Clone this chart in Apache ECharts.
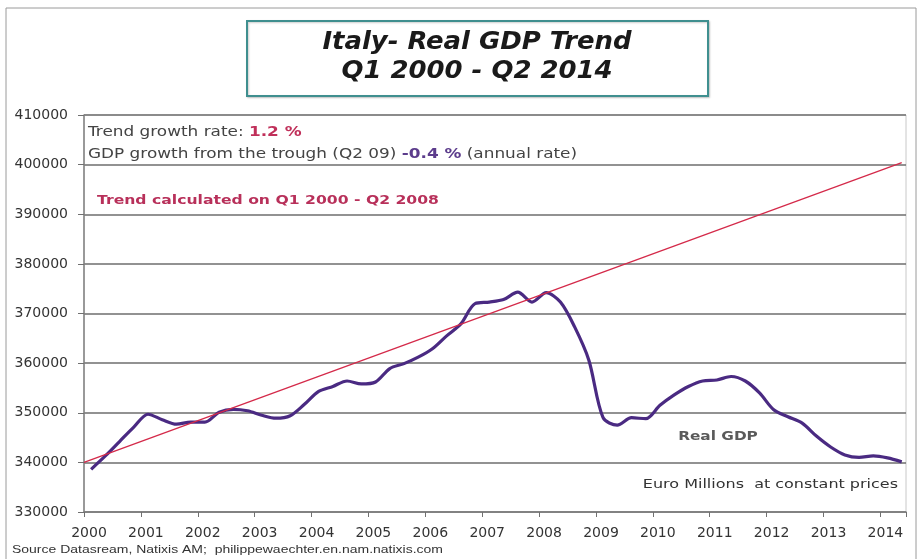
<!DOCTYPE html>
<html>
<head>
<meta charset="utf-8">
<script src="https://cdn.jsdelivr.net/npm/echarts@6/dist/echarts.min.js"></script>
<style>
html,body{margin:0;padding:0;background:#fff;}
#chart{width:918px;height:559px;}
</style>
</head>
<body>
<div id="chart"></div>
<script>
// ---- Data ----
const years = [2000,2001,2002,2003,2004,2005,2006,2007,2008,2009,2010,2011,2012,2013,2014];
const quarters = (function(){const q=[];for(let y=2000;y<=2014;y++){for(let k=1;k<=4;k++){q.push(y+'Q'+k);if(y===2014&&k===2)return q;}}return q;})();
// Real GDP, euro millions at constant prices, Q1 2000 - Q2 2014
const realGDP = [
  338600, 341300, 344200, 347100,
  349700, 348600, 347700, 348100,
  348100, 350100, 350700, 350400,
  349500, 348900, 349400, 351700,
  354300, 355300, 356400, 355800,
  356200, 358900, 359900, 361200,
  362900, 365500, 367900, 372000,
  372300, 372800, 374300, 372300,
  374200, 372300, 367300, 360600,
  349000, 347500, 349000, 348800,
  351500, 353600, 355300, 356400,
  356600, 357300, 356400, 354000,
  350600, 349200, 347900, 345300,
  343100, 341500, 341000, 341300,
  340900, 340100
];
// Trend line (calculated on Q1 2000 - Q2 2008), end points
const trendX = [2000.0, 2014.375];
const trendY = [340000, 400400];
const yTicks = [330000, 340000, 350000, 360000, 370000, 380000, 390000, 400000, 410000];

function quarterPos(label){
  const y = parseInt(label.slice(0,4),10);
  const q = parseInt(label.slice(5),10);
  return y + (q-1)/4 + 0.125;
}
const gdpData = quarters.map((q,i)=>[quarterPos(q), realGDP[i]]);
const trendData = trendX.map((x,i)=>[x, trendY[i]]);

const chart = echarts.init(document.getElementById('chart'), null, {renderer:'canvas'});
const F = 'DejaVu Sans, Verdana, sans-serif';
const SX = 1.25;
chart.setOption({
  animation:false,
  backgroundColor:'#ffffff',
  grid:{left:84, right:12, top:115, bottom:47, show:true, borderColor:'#c8c8c8', borderWidth:1, backgroundColor:'transparent'},
  xAxis:{
    type:'value', min:years[0], max:2014.45, interval:1,
    axisLine:{show:true, onZero:false, lineStyle:{color:'#808080', width:1.5}},
    axisTick:{show:true, length:5, lineStyle:{color:'#707070'}},
    axisLabel:{color:'#333', fontFamily:F, fontSize:14, margin:14, padding:[0,0,0,10],
      formatter:v=>years.indexOf(Math.round(v))>=0 && Math.abs(v-Math.round(v))<1e-6 ? String(Math.round(v)) : ''},
    splitLine:{show:false}
  },
  yAxis:{
    type:'value', min:yTicks[0], max:yTicks[yTicks.length-1], interval:10000,
    axisLine:{show:true, lineStyle:{color:'#808080', width:1.5}},
    axisTick:{show:true, length:6, lineStyle:{color:'#707070'}},
    axisLabel:{color:'#333', fontFamily:F, fontSize:14, margin:16, padding:[3,0,0,0], formatter:v=>String(v)},
    splitLine:{show:true, lineStyle:{color:'#6e6e6e', width:1.5}}
  },
  series:[
    {
      name:'Trend', type:'line', data:trendData, showSymbol:false, z:3,
      lineStyle:{color:'#d42a4a', width:1.3}
    },
    {
      name:'Real GDP', type:'line', data:gdpData, showSymbol:false, smooth:0.3, z:2,
      lineStyle:{color:'#4a2a82', width:3.2}
    }
  ],
  graphic:[
    {type:'rect', shape:{x:6, y:8, width:910, height:560}, style:{fill:'none', stroke:'#9a9a9a', lineWidth:1}, silent:true, z:-1},
    {type:'rect', shape:{x:247, y:21, width:461, height:75}, style:{fill:'#fff', stroke:'#3f8f8f', lineWidth:2, shadowBlur:2, shadowColor:'rgba(0,0,0,0.2)', shadowOffsetX:1, shadowOffsetY:1}, z:10},
    {type:'text', x:477, y:43, scaleX:1.2, style:{text:'Italy- Real GDP Trend', font:'italic bold 24px "DejaVu Sans Condensed", "DejaVu Sans", sans-serif', fill:'#1a1a1a', textAlign:'center', textVerticalAlign:'middle'}, z:11},
    {type:'text', x:477, y:72, scaleX:1.2, style:{text:'Q1 2000 - Q2 2014', font:'italic bold 24px "DejaVu Sans Condensed", "DejaVu Sans", sans-serif', fill:'#1a1a1a', textAlign:'center', textVerticalAlign:'middle'}, z:11},
    {type:'text', x:88, y:132, scaleX:SX, style:{
      text:'{a|Trend growth rate: }{r|1.2 %}',
      rich:{a:{fontFamily:F, fontSize:13.5, fill:'#444'}, r:{fontFamily:F, fontSize:13.5, fontWeight:'bold', fill:'#c0305a'}},
      textVerticalAlign:'middle'}, z:11},
    {type:'text', x:88, y:154, scaleX:SX, style:{
      text:'{a|GDP growth from the trough (Q2 09) }{p|-0.4 %}{a| (annual rate)}',
      rich:{a:{fontFamily:F, fontSize:13.5, fill:'#444'}, p:{fontFamily:F, fontSize:13.5, fontWeight:'bold', fill:'#5c3c8c'}},
      textVerticalAlign:'middle'}, z:11},
    {type:'text', x:97, y:201, scaleX:SX, style:{text:'Trend calculated on Q1 2000 - Q2 2008', font:'bold 12.5px "DejaVu Sans", sans-serif', fill:'#b8305a', textVerticalAlign:'middle'}, z:11},
    {type:'text', x:718, y:437, scaleX:1.18, style:{text:'Real GDP', font:'bold 13px "DejaVu Sans", sans-serif', fill:'#5a5a5a', textAlign:'center', textVerticalAlign:'middle'}, z:11},
    {type:'text', x:898, y:485, scaleX:1.23, style:{text:'Euro Millions  at constant prices', font:'13px "DejaVu Sans", sans-serif', fill:'#333', textAlign:'right', textVerticalAlign:'middle'}, z:11},
    {type:'text', x:12, y:550, scaleX:1.27, style:{text:'Source Datasream, Natixis AM;  philippewaechter.en.nam.natixis.com', font:'11px "Liberation Sans", Arial, sans-serif', fill:'#333', textVerticalAlign:'middle'}, z:11}
  ]
});
</script>
</body>
</html>
